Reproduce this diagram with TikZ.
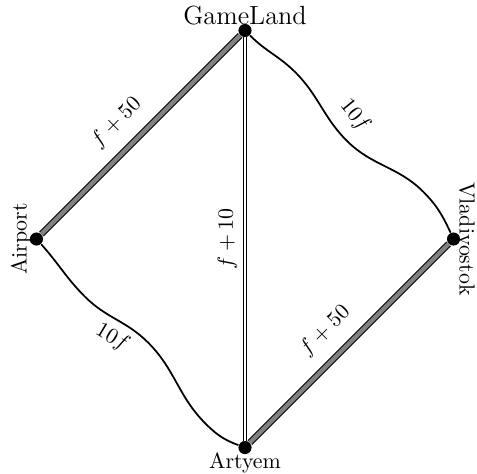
\documentclass[tikz,border=0pt]{standalone}
\usetikzlibrary{positioning}

\begin{document}
\begin{tikzpicture}[
  city/.style={inner sep=2.4pt},
  dot/.style={circle, fill, inner sep=0pt, minimum size=6pt},
  highway/.style={line width=0.5pt, double=gray, double distance=2pt},
  rail/.style={line width=0.5pt, double, double distance=1.1pt},
  road/.style={thick},
  cost/.style={sloped},
]
  \useasboundingbox (-3.936,-3.760) rectangle (3.727,3.840);

  % City names
  \node[city, anchor=south, font=\large] (gameland) at (0,3.35) {GameLand};
  \node[city, anchor=south, rotate=90] (airport) at (-3.35,0) {Airport};
  \node[city, anchor=south, rotate=-90] (vladivostok) at (3.35,0) {Vladivostok};
  \node[city, anchor=north] (artyem) at (0,-3.35) {Artyem};

  % Junctions
  \node[dot] (game) at (gameland.south) {};
  \node[dot] (air) at (airport.south) {};
  \node[dot] (vlad) at (vladivostok.south) {};
  \node[dot] (art) at (artyem.north) {};

  % Bends of the winding roads
  \coordinate (p1) at (0.807,2.680);
  \coordinate (p2) at (1.636,1.578);
  \coordinate (p3) at (2.863,0.760);
  \coordinate (q1) at (-2.572,-0.926);
  \coordinate (q2) at (-1.558,-1.662);
  \coordinate (q3) at (-0.635,-2.965);

  % Roads
  \draw[highway] (air) -- node[cost, above, outer sep=4pt, pos=0.47] {$f+50$} (game);
  \draw[highway] (art) -- node[cost, above, outer sep=4pt, pos=0.47] {$f+50$} (vlad);
  \draw[rail] (art) -- node[cost, above] {$f+10$} (game);
  \draw[road] (game) to[out=-45, in=135] (p1)
    to[out=-45, in=135] node[cost, above, outer sep=2.5pt, pos=0.85] {$10f$} (p2)
    to[out=-45, in=135] (p3) to[out=-45, in=115] (vlad);
  \draw[road] (air) to[out=-48, in=135] (q1)
    to[out=-45, in=135] node[cost, below, pos=0.58] {$10f$} (q2)
    to[out=-45, in=135] (q3) to[out=-45, in=160] (art);
\end{tikzpicture}
\end{document}
